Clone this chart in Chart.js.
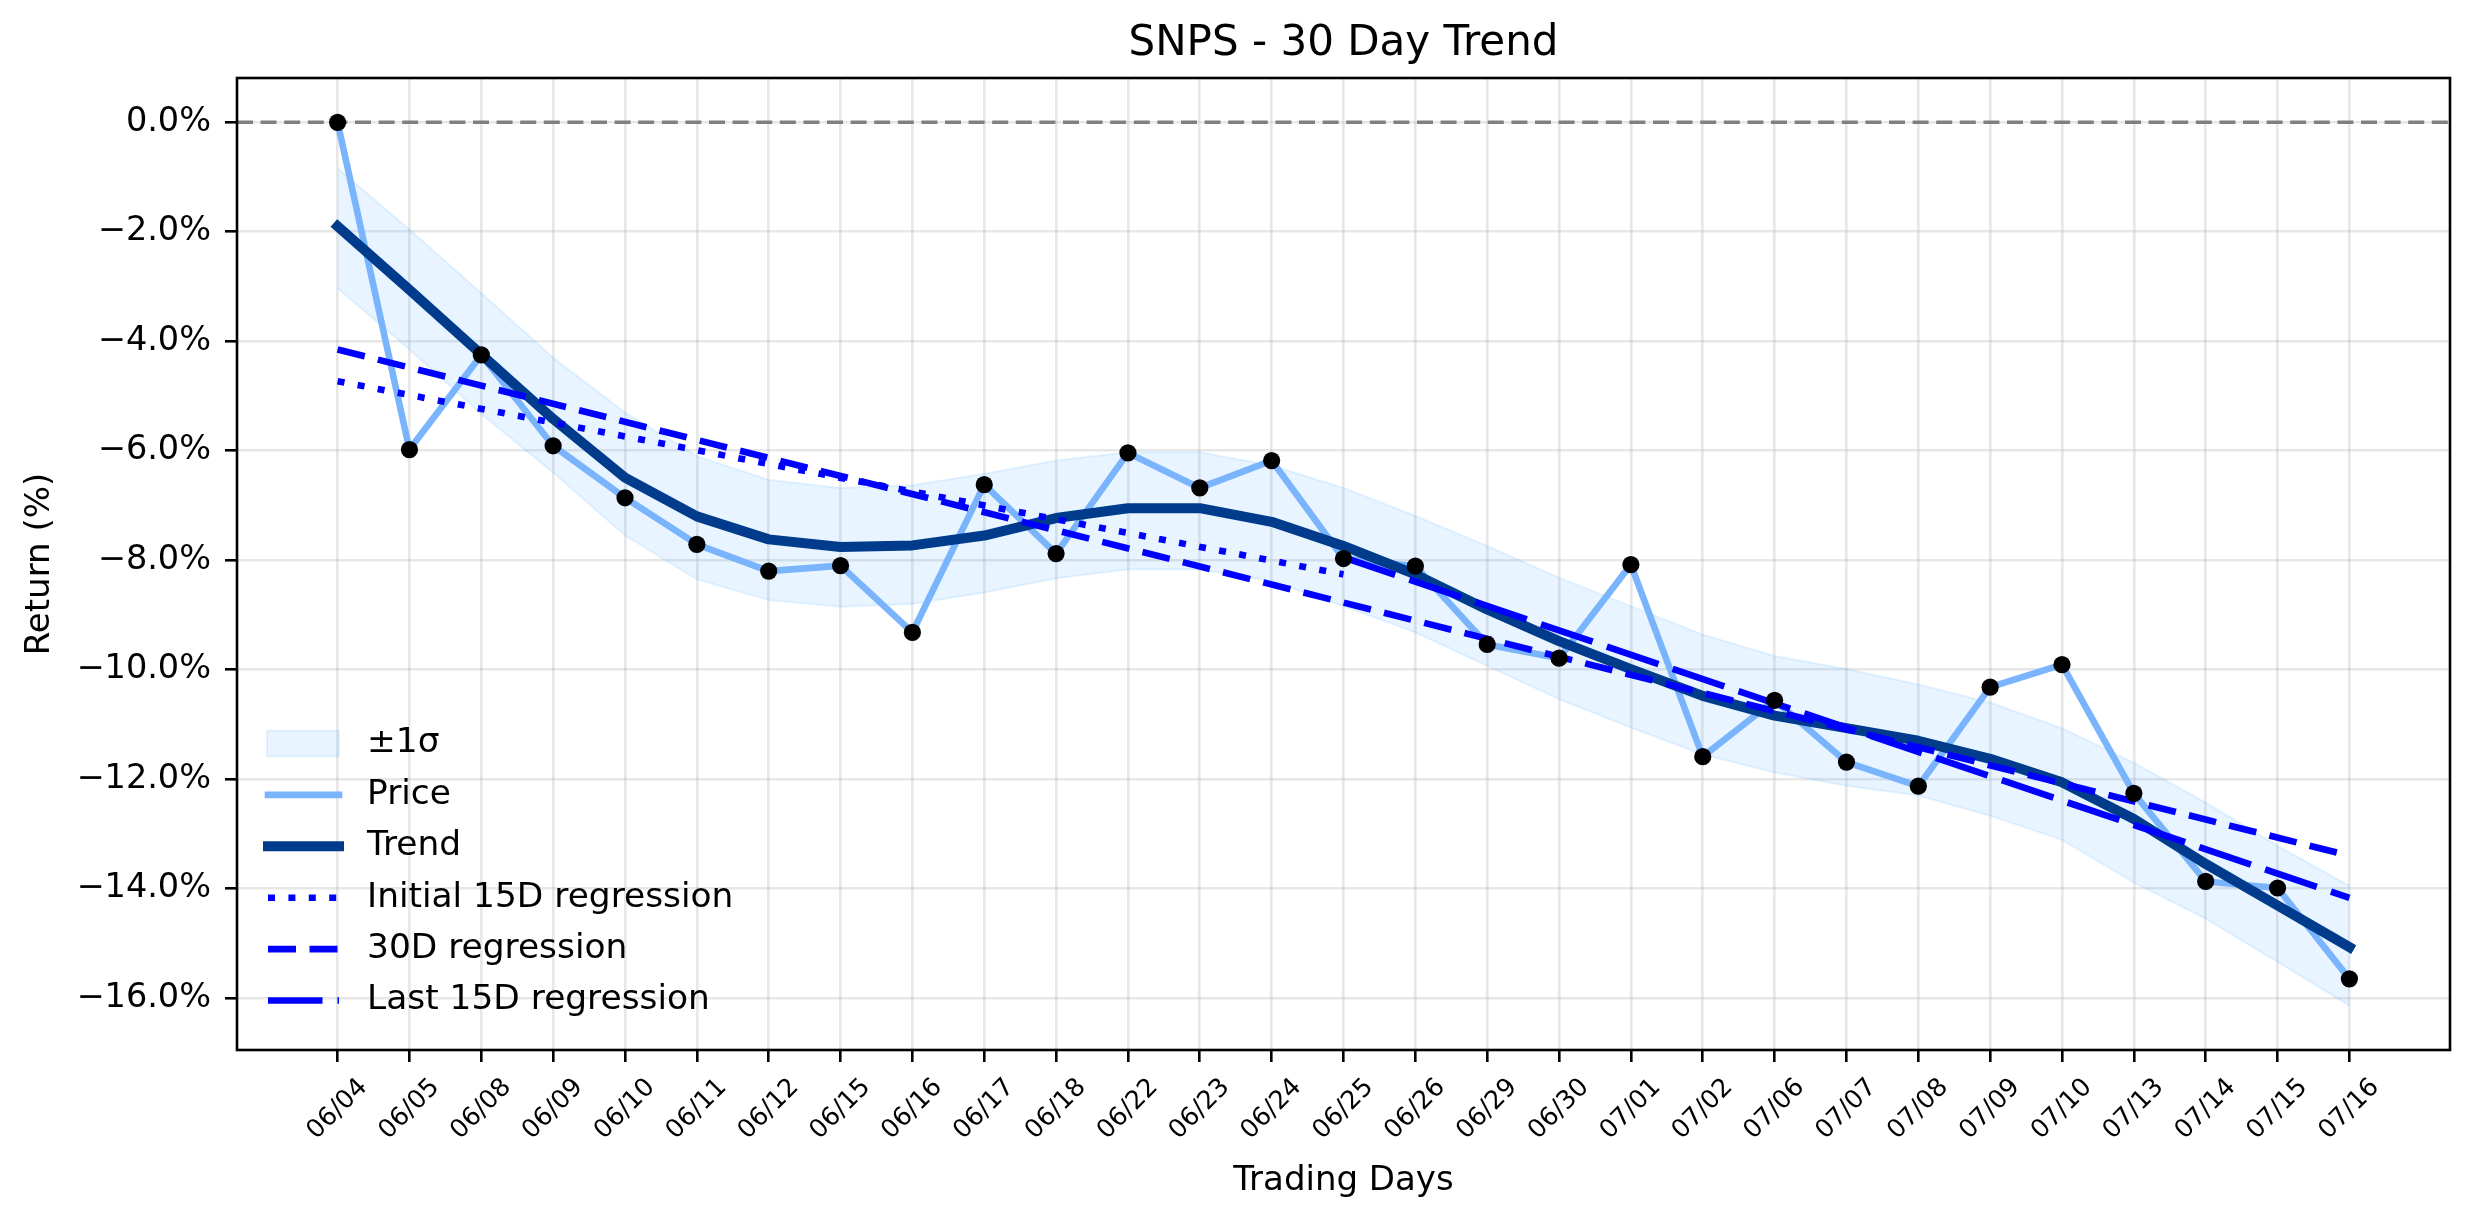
<!DOCTYPE html>
<html>
<head>
  <title>SNPS - 30 Day Trend</title>
  <script src="https://cdn.jsdelivr.net/npm/chart.js@4.4.0/dist/chart.umd.min.js"></script>
  <style>
    body { margin: 0; background: #fff; }
    #wrap { width: 2474px; height: 1224px; }
  </style>
</head>
<body>
  <div id="wrap"><canvas id="trendChart" width="2474" height="1224"></canvas></div>
  <script>
    // trading days (x categories)
    var dates = ['06/04', '06/05', '06/08', '06/09', '06/10', '06/11', '06/12', '06/15', '06/16', '06/17',
      '06/18', '06/22', '06/23', '06/24', '06/25', '06/26', '06/29', '06/30', '07/01', '07/02',
      '07/06', '07/07', '07/08', '07/09', '07/10', '07/13', '07/14', '07/15', '07/16'];

    // cumulative return, %
    var price = [0.00, -5.98, -4.25, -5.91, -6.86, -7.71, -8.20, -8.10, -9.32, -6.62,
      -7.88, -6.04, -6.68, -6.18, -7.97, -8.11, -9.54, -9.79, -8.08, -11.59,
      -10.56, -11.69, -12.13, -10.32, -9.91, -12.26, -13.87, -13.99, -15.65];

    var trend = [-1.90, -3.06, -4.24, -5.42, -6.49, -7.20, -7.62, -7.76, -7.73, -7.55,
      -7.23, -7.05, -7.05, -7.30, -7.74, -8.26, -8.90, -9.48, -9.99, -10.48,
      -10.84, -11.07, -11.30, -11.63, -12.06, -12.73, -13.55, -14.31, -15.07];

    var sigmaUpper = [-0.84, -1.96, -3.12, -4.30, -5.30, -6.10, -6.53, -6.68, -6.63, -6.42,
      -6.18, -6.03, -6.03, -6.27, -6.68, -7.19, -7.74, -8.32, -8.84, -9.36,
      -9.75, -9.99, -10.27, -10.60, -11.07, -11.70, -12.43, -13.22, -13.95];

    var sigmaLower = [-3.03, -4.15, -5.33, -6.40, -7.55, -8.35, -8.73, -8.85, -8.80, -8.59,
      -8.33, -8.17, -8.17, -8.38, -8.84, -9.32, -9.93, -10.54, -11.06, -11.55,
      -11.88, -12.12, -12.30, -12.67, -13.11, -13.89, -14.55, -15.34, -16.14];

    // regression lines: day index at start/end, value at start/end
    var initialRegDays = [0, 14];
    var initialRegValues = [-4.73, -8.26];
    var fullRegDays = [0, 28];
    var fullRegValues = [-4.15, -13.40];
    var lastRegDays = [14, 28];
    var lastRegValues = [-7.95, -14.17];

    var yTicks = [-16, -14, -12, -10, -8, -6, -4, -2, 0];

    var FONT = '"DejaVu Sans", sans-serif';
    var dayIdx = dates.map(function (d, i) { return i; });

    function pts(xs, ys) {
      return ys.map(function (y, i) { return { x: xs[i], y: y }; });
    }

    // dashed zero line + black frame round the axes
    var framePlugin = {
      id: 'frame',
      beforeDatasetsDraw: function (chart) {
        var ctx = chart.ctx, a = chart.chartArea;
        var y0 = chart.scales.y.getPixelForValue(0);
        ctx.save();
        ctx.strokeStyle = '#808080';
        ctx.lineWidth = 3.5;
        ctx.setLineDash([16, 7.6]);
        ctx.beginPath();
        ctx.moveTo(a.left, y0);
        ctx.lineTo(a.right, y0);
        ctx.stroke();
        ctx.restore();
      },
      afterDraw: function (chart) {
        var ctx = chart.ctx, a = chart.chartArea;
        ctx.save();
        ctx.strokeStyle = '#000';
        ctx.lineWidth = 2.6;
        ctx.strokeRect(a.left, a.top, a.right - a.left, a.bottom - a.top);
        ctx.restore();
      }
    };

    // legend drawn inside the plot, lower left, without a frame
    var legendPlugin = {
      id: 'insideLegend',
      afterDatasetsDraw: function (chart) {
        var ctx = chart.ctx, a = chart.chartArea;
        var items = chart.data.datasets.filter(function (ds) { return ds.label; });
        var rowGap = 51.4;
        var y = a.bottom - 49.5 - (items.length - 1) * rowGap;
        ctx.save();
        ctx.font = '34.4px ' + FONT;
        ctx.textBaseline = 'middle';
        ctx.textAlign = 'left';
        items.forEach(function (ds) {
          if (ds.patch) {
            ctx.fillStyle = ds.backgroundColor;
            ctx.strokeStyle = ds.borderColor;
            ctx.lineWidth = 2;
            ctx.fillRect(a.left + 30, y - 12.8, 72, 25.6);
            ctx.strokeRect(a.left + 30, y - 12.8, 72, 25.6);
          } else {
            var dash = ds.borderDash || [];
            ctx.strokeStyle = ds.borderColor;
            ctx.lineWidth = ds.borderWidth;
            ctx.setLineDash(dash);
            ctx.lineCap = dash.length ? 'butt' : 'square';
            ctx.beginPath();
            ctx.moveTo(a.left + 31, y);
            ctx.lineTo(a.left + 102, y);
            ctx.stroke();
            ctx.setLineDash([]);
          }
          ctx.fillStyle = '#000';
          ctx.fillText(ds.label, a.left + 130, y);
          y += rowGap;
        });
        ctx.restore();
      }
    };

    var ctx = document.getElementById('trendChart').getContext('2d');

    var chart = new Chart(ctx, {
      type: 'line',
      data: {
        datasets: [{
          label: '\u00b11\u03c3',
          patch: true,
          data: pts(dayIdx, sigmaUpper),
          borderColor: 'rgba(30,144,255,0.1)',
          backgroundColor: 'rgba(30,144,255,0.1)',
          borderWidth: 2,
          fill: false,
          pointRadius: 0,
          order: 7
        }, {
          data: pts(dayIdx, sigmaLower),
          borderColor: 'rgba(30,144,255,0.1)',
          backgroundColor: 'rgba(30,144,255,0.1)',
          borderWidth: 2,
          fill: '-1',
          pointRadius: 0,
          order: 6
        }, {
          label: 'Price',
          data: pts(dayIdx, price),
          borderColor: '#79b4fd',
          borderWidth: 6.6,
          borderJoinStyle: 'round',
          pointRadius: 0,
          order: 5
        }, {
          label: 'Trend',
          data: pts(dayIdx, trend),
          borderColor: '#003b8c',
          borderWidth: 10,
          borderJoinStyle: 'round',
          borderCapStyle: 'square',
          pointRadius: 0,
          order: 4
        }, {
          label: 'Initial 15D regression',
          data: pts(initialRegDays, initialRegValues),
          borderColor: '#0000ff',
          borderWidth: 6.6,
          borderDash: [7, 13.4],
          pointRadius: 0,
          order: 3
        }, {
          label: '30D regression',
          data: pts(fullRegDays, fullRegValues),
          borderColor: '#0000ff',
          borderWidth: 6.6,
          borderDash: [28, 13.5],
          pointRadius: 0,
          order: 2
        }, {
          label: 'Last 15D regression',
          data: pts(lastRegDays, lastRegValues),
          borderColor: '#0000ff',
          borderWidth: 6.6,
          borderDash: [54.5, 15],
          pointRadius: 0,
          order: 1
        }, {
          data: pts(dayIdx, price),
          showLine: false,
          pointRadius: 8.6,
          pointBackgroundColor: '#000',
          pointBorderWidth: 0,
          order: 0
        }]
      },
      options: {
        responsive: false,
        animation: false,
        devicePixelRatio: 1,
        layout: { padding: { left: 0, right: 24, top: 0, bottom: 0 } },
        elements: { line: { tension: 0 } },
        plugins: {
          legend: { display: false },
          tooltip: { enabled: false },
          filler: { drawTime: 'beforeDatasetsDraw' },
          title: {
            display: true,
            text: 'SNPS - 30 Day Trend',
            fullSize: false,
            color: '#000',
            font: { family: FONT, size: 42, weight: 'normal', lineHeight: 1.2 },
            padding: { top: 18.6, bottom: 9 }
          }
        },
        scales: {
          x: {
            type: 'linear',
            min: -1.4,
            max: 29.4,
            afterBuildTicks: function (scale) {
              scale.ticks = dayIdx.map(function (v) { return { value: v }; });
            },
            afterFit: function (scale) {
              scale.height = 174;
              scale.paddingLeft = 0;
              scale.paddingRight = 0;
            },
            ticks: {
              autoSkip: false,
              minRotation: 45,
              maxRotation: 45,
              labelOffset: 26,
              padding: 10.6,
              color: '#000',
              font: { family: FONT, size: 25.5 },
              callback: function (v) { return dates[v]; }
            },
            grid: {
              color: 'rgba(176,176,176,0.3)',
              lineWidth: 2.6,
              tickColor: '#000',
              tickWidth: 2.6,
              tickLength: 12
            },
            border: { display: false },
            title: {
              display: true,
              text: 'Trading Days',
              color: '#000',
              font: { family: FONT, size: 34 },
              padding: { top: 0, bottom: 22.7 }
            }
          },
          y: {
            min: -16.95,
            max: 0.81,
            afterBuildTicks: function (scale) {
              scale.ticks = yTicks.map(function (v) { return { value: v }; });
            },
            afterFit: function (scale) {
              scale.width = 237;
              scale.paddingTop = 0;
              scale.paddingBottom = 0;
            },
            ticks: {
              padding: 14,
              color: '#000',
              font: { family: FONT, size: 33.5 },
              callback: function (v) {
                return (v < 0 ? '\u2212' : '') + Math.abs(v).toFixed(1) + '%';
              }
            },
            grid: {
              color: 'rgba(176,176,176,0.3)',
              lineWidth: 2.6,
              tickColor: '#000',
              tickWidth: 2.6,
              tickLength: 12
            },
            border: { display: false },
            title: {
              display: true,
              text: 'Return (%)',
              color: '#000',
              font: { family: FONT, size: 34 },
              padding: { top: 20, bottom: 0 }
            }
          }
        }
      },
      plugins: [framePlugin, legendPlugin]
    });
  </script>
</body>
</html>
